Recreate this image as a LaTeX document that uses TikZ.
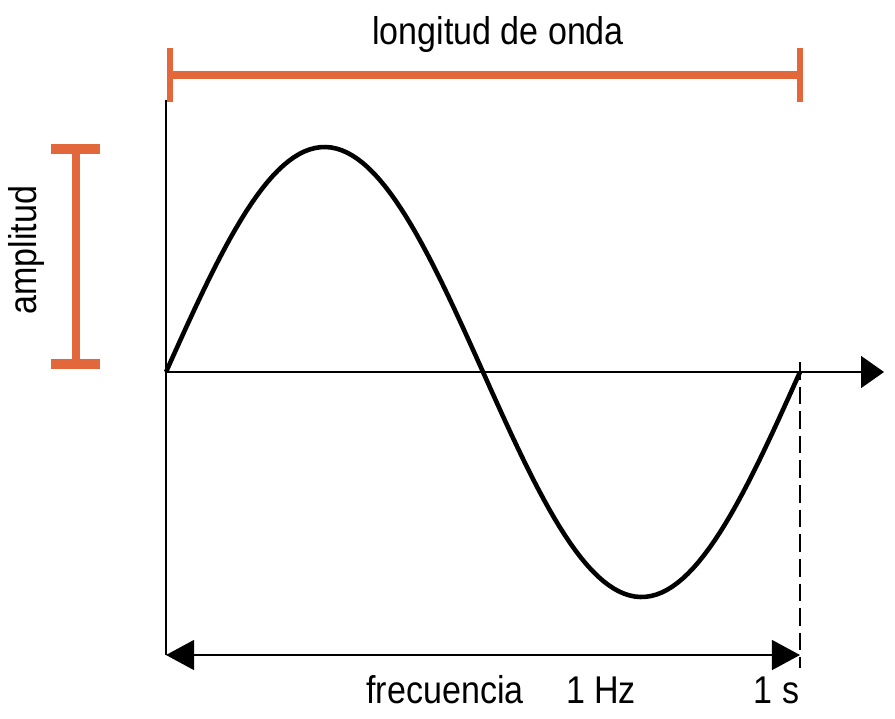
\documentclass[tikz,border=0pt]{standalone}
\usepackage{fontspec}
\setmainfont{Liberation Sans}
\newfontfamily\narrowsans[FakeStretch=0.88]{Liberation Sans}
\usetikzlibrary{arrows.meta}
\definecolor{orng}{HTML}{E2673A}
\begin{document}
\begin{tikzpicture}[x=0.01cm,y=-0.01cm,
  lbl/.style={font=\narrowsans\fontsize{11}{13}\selectfont, inner sep=0pt},
  axis/.style={line width=0.6pt, black},
  wave/.style={line width=1.3pt, black},
  obar/.style={orng, line width=2.4pt},
  ocap/.style={orng, line width=2.8pt},
  dimarrow/.style={line width=0.6pt, {Triangle[length=8pt,width=8.5pt]}-{Triangle[length=8pt,width=8.5pt]}}
]
\useasboundingbox (0,0) rectangle (895,718);
% coordinates
\coordinate (O) at (166,372);
\coordinate (Xend) at (884,372);
\coordinate (Ytop) at (166,100);
\coordinate (Ybot) at (166,655);
\coordinate (E) at (800,372);
\coordinate (Etop) at (800,362);
\coordinate (Ebot) at (800,668);
\coordinate (BL) at (166,655);
\coordinate (BR) at (800,655);
% axes
\draw[axis] (Ytop) -- (Ybot);
\draw[axis, -{Triangle[length=6.5pt,width=9pt]}] (O) -- (Xend);
% wave
\draw[wave] plot[domain=0:360, samples=120] ({166+\x/360*634},{372-225*sin(\x)});
% dashed end
\draw[axis, dash pattern=on 5pt off 2pt] (Etop) -- (Ebot);
% bottom arrow
\draw[dimarrow] (BL) -- (BR);
% wavelength bar
\coordinate (L1) at (170,75);
\coordinate (L2) at (800,75);
\draw[obar] (L1) -- (L2);
\coordinate (L1a) at (170,48);
\coordinate (L1b) at (170,102);
\coordinate (L2a) at (800,48);
\coordinate (L2b) at (800,102);
\draw[orng, line width=1.8pt] (L1a) -- (L1b);
\draw[orng, line width=1.8pt] (L2a) -- (L2b);
% amplitude bar
\coordinate (A1) at (76,149);
\coordinate (A2) at (76,364);
\draw[orng, line width=2pt] (A1) -- (A2);
\coordinate (A1a) at (51,149);
\coordinate (A1b) at (100,149);
\coordinate (A2a) at (51,364);
\coordinate (A2b) at (100,364);
\draw[ocap] (A1a) -- (A1b);
\draw[ocap] (A2a) -- (A2b);
% labels
\node[lbl] (lw) at (498,34) {longitud de onda};
\node[lbl, rotate=90] (amp) at (26,250) {amplitud};
\node[lbl, anchor=base] (fr) at (445,703) {frecuencia};
\node[lbl, anchor=base] (hz) at (601,703) {1 Hz};
\node[lbl, anchor=base east] (s) at (800,703) {1 s};
\end{tikzpicture}
\end{document}
